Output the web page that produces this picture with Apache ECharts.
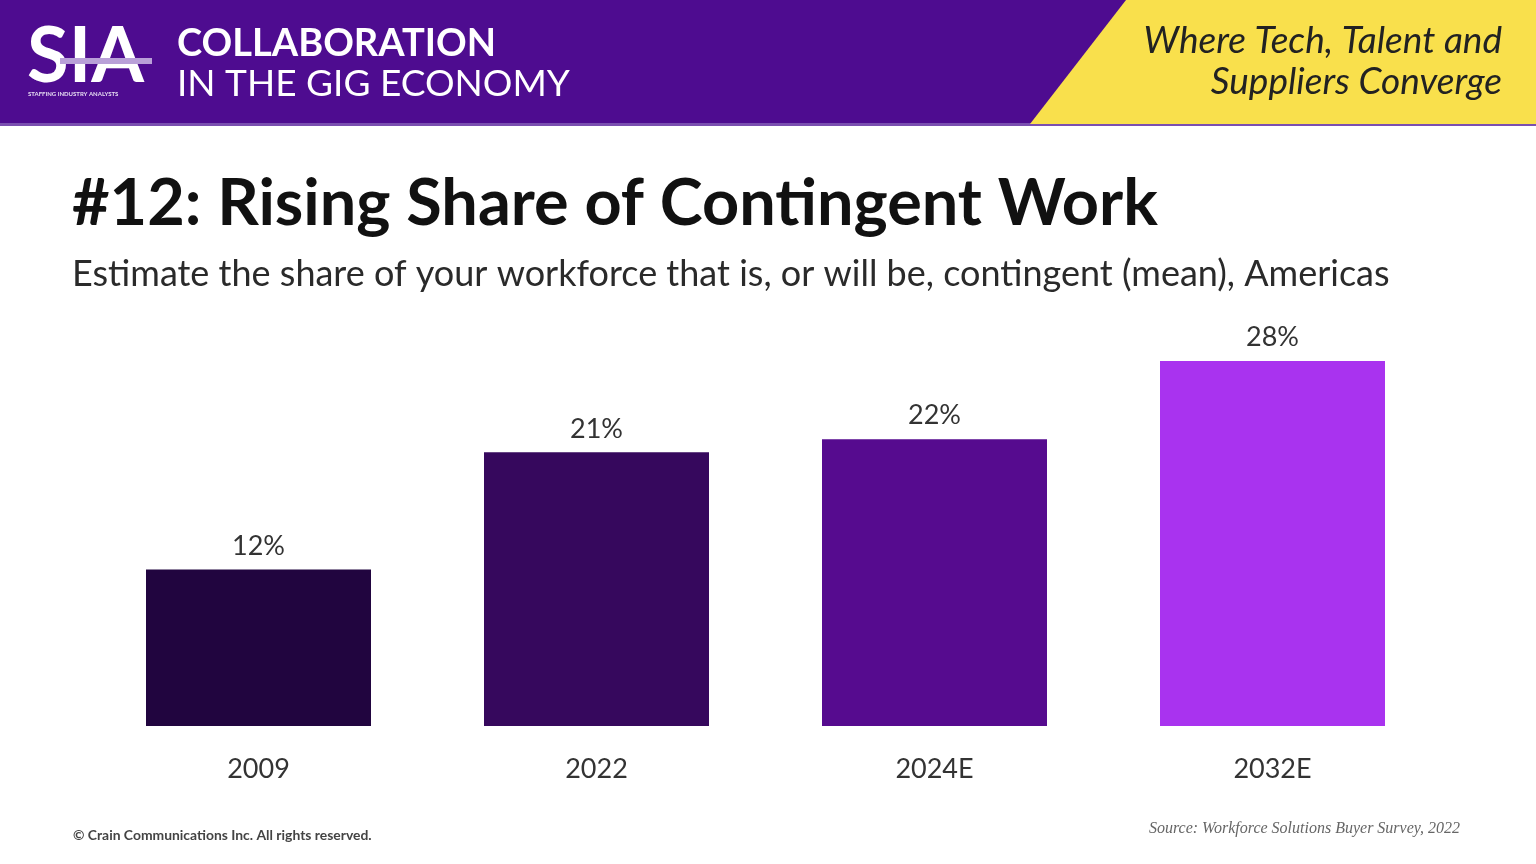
<!DOCTYPE html>
<html><head><meta charset="utf-8">
<script src="https://cdn.jsdelivr.net/npm/echarts@6/dist/echarts.min.js"></script>
<style>html,body{margin:0;padding:0;background:#fff}#c{width:1536px;height:864px}</style>
</head><body><div id="c"></div>
<script>
const categories = ['2009', '2022', '2024E', '2032E'];
const shareValues = [12, 21, 22, 28];
const barColors = ['#21053f', '#36085d', '#560b8f', '#a933ef'];
const yTicks = [0, 10, 20, 30];

const chart = echarts.init(document.getElementById('c'));
const font = 'Lato, "Open Sans", "Noto Sans", sans-serif';
chart.setOption({
  backgroundColor: '#ffffff',
  animation: false,
  grid: { left: 89.5, right: 94.5, top: 335, bottom: 138 },
  xAxis: {
    type: 'category', data: categories,
    axisLine: { show: false }, axisTick: { show: false },
    axisLabel: { fontSize: 27, color: '#333', fontFamily: font, margin: 30 }
  },
  yAxis: {
    type: 'value', min: yTicks[0], max: yTicks[yTicks.length - 1], interval: 10, show: false
  },
  series: [{
    type: 'bar', barWidth: 225,
    data: shareValues.map((v, i) => ({ value: v, itemStyle: { color: barColors[i] } })),
    label: { show: true, position: 'top', distance: 10, formatter: '{c}%', fontSize: 27, color: '#333', fontFamily: font }
  }],
  graphic: [
    { type: 'rect', left: 0, top: 0, shape: { width: 1536, height: 125 }, style: { fill: '#4e0c90' }, z: 0 },
    { type: 'rect', left: 0, top: 123, shape: { width: 1536, height: 3 }, style: { fill: '#7a4fb0' }, z: 1 },
    { type: 'polygon', shape: { points: [[1126, 0], [1536, 0], [1536, 124], [1030, 124]] }, style: { fill: '#f9e04c' }, z: 2 },
    { type: 'text', left: 27, top: 19, style: { text: 'SIA', font: 'bold 76px ' + font, fill: '#ffffff' }, z: 3 },
    { type: 'rect', left: 60, top: 58, shape: { width: 92, height: 6 }, style: { fill: '#b9a0d8' }, z: 4 },
    { type: 'text', left: 28, top: 91, style: { text: 'STAFFING INDUSTRY ANALYSTS', font: 'bold 6px ' + font, fill: '#e6dcf2' }, z: 3 },
    { type: 'text', left: 177, top: 25, style: { text: 'COLLABORATION', font: 'bold 38px ' + font, fill: '#ffffff' }, z: 3 },
    { type: 'text', left: 177, top: 66, style: { text: 'IN THE GIG ECONOMY', font: '37px ' + font, fill: '#ffffff' }, z: 3 },
    { type: 'text', right: 34, top: 23, style: { text: 'Where Tech, Talent and', font: 'italic 37px ' + font, fill: '#222222', align: 'right' }, z: 3 },
    { type: 'text', right: 34, top: 64, style: { text: 'Suppliers Converge', font: 'italic 37px ' + font, fill: '#222222', align: 'right' }, z: 3 },
    { type: 'text', left: 72, top: 172, style: { text: '#12: Rising Share of Contingent Work', font: 'bold 64.8px ' + font, fill: '#111111' }, z: 3 },
    { type: 'text', left: 72, top: 256, style: { text: 'Estimate the share of your workforce that is, or will be, contingent (mean), Americas', font: '36px ' + font, fill: '#2a2a2a' }, z: 3 },
    { type: 'text', left: 73, top: 829, style: { text: '© Crain Communications Inc. All rights reserved.', font: 'bold 13.9px ' + font, fill: '#444' }, z: 3 },
    { type: 'text', right: 76, top: 821, style: { text: 'Source: Workforce Solutions Buyer Survey, 2022', font: 'italic 16px "Liberation Serif", serif', fill: '#666' }, z: 3 }
  ]
});
</script></body></html>
